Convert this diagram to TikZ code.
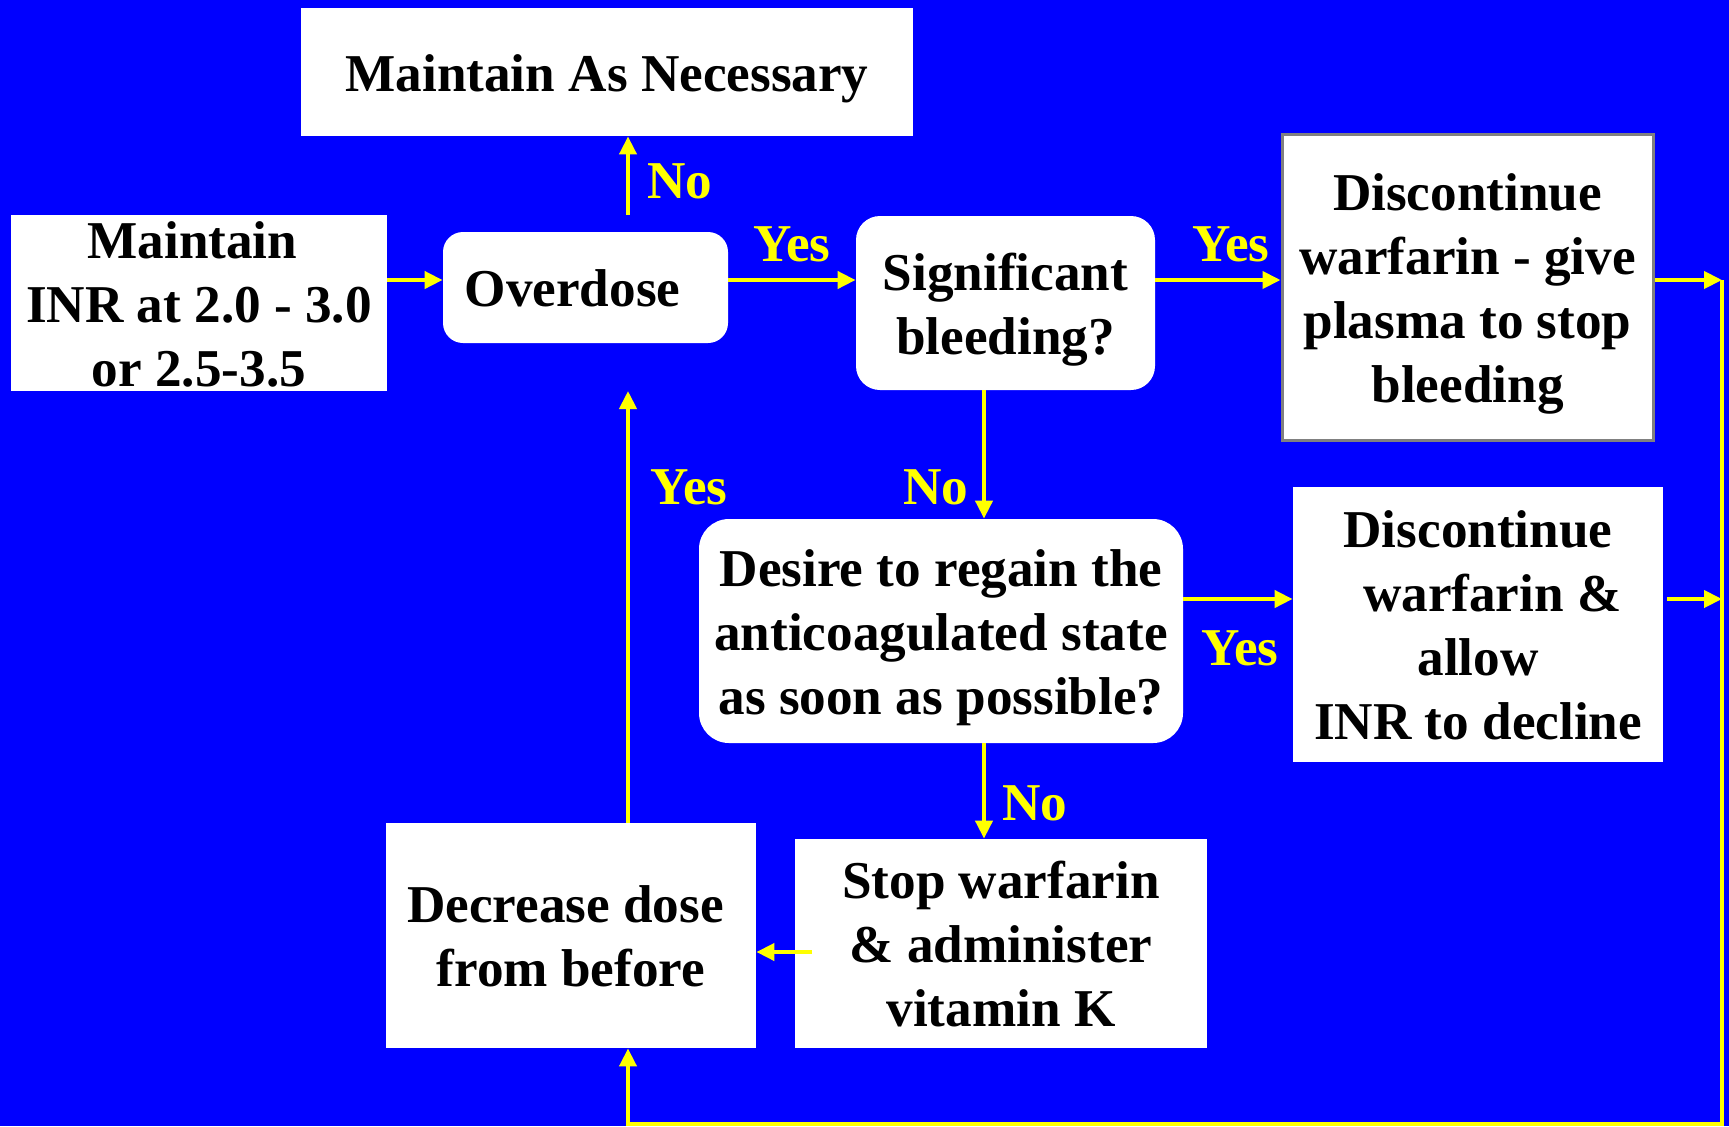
\documentclass[tikz,border=0pt]{standalone}
\usepackage{fontspec}
\setmainfont{Liberation Serif}
\usetikzlibrary{arrows.meta,calc}
\definecolor{bg}{RGB}{0,0,255}
\definecolor{yl}{RGB}{255,255,0}
\definecolor{gr}{RGB}{128,128,128}
\newcommand{\ls}{\rule[-6pt]{0pt}{31pt}}
\newcommand{\lsn}{\rule[-2.5pt]{0pt}{24pt}}
\begin{document}
\begin{tikzpicture}[x=0.5pt,y=-0.5pt,
  txt/.style={font=\bfseries\fontsize{26.6}{32}\selectfont, align=center},
  box/.style={txt, fill=white, inner sep=0pt, text=black},
  rbox/.style={box, rounded corners=#1},
  lab/.style={font=\bfseries\fontsize{26.6}{32}\selectfont, text=yl, anchor=base, inner sep=0pt},
  arr/.style={draw=yl, line width=2pt, -{Triangle[length=9pt,width=8.5pt]}}]
\fill[bg] (0,0) rectangle (1729,1126);
\useasboundingbox (0,0) rectangle (1729,1126);

\node[box, minimum width=306pt, minimum height=64pt] (MAN) at (607,72) {\ls Maintain As Necessary};
\node[box, minimum width=188pt, minimum height=88pt] (INR) at (199,303) {\lsn Maintain\kern6.6pt\\\lsn INR at 2.0 - 3.0\\\lsn or 2.5-3.5};
\node[rbox=10pt, minimum width=142.5pt, minimum height=55.5pt] (OD) at (585.5,287.5) {\hspace*{-13pt}\ls Overdose};
\node[rbox=12pt, minimum width=149.5pt, minimum height=87pt] (SB) at (1005.5,303) {\ls Significant\\\ls bleeding?};
\node[box, draw=gr, line width=1.5pt, minimum width=185.5pt, minimum height=153pt] (DP) at (1467.5,287) {\ls Discontinue\\\ls warfarin - give\\\ls plasma to stop\\\ls bleeding};
\node[rbox=15pt, minimum width=242pt, minimum height=112pt] (DES) at (941,631) {\ls Desire to regain the\\\ls anticoagulated state\\\ls as soon as possible?};
\node[box, minimum width=185pt, minimum height=137.5pt] (DA) at (1478,624.5) {\ls Discontinue\\\ls\kern14.3pt warfarin \&\\\ls allow\\\ls INR to decline};
\node[box, minimum width=206pt, minimum height=104.5pt] (STOP) at (1001,943.5) {\ls Stop warfarin\\\ls \& administer\\\ls vitamin K};
\node[box, minimum width=185pt, minimum height=112.5pt] (DEC) at (571,935.5) {\ls Decrease dose\kern5.5pt\\\ls from before};

\coordinate (x628) at (628,0);
\coordinate (x984) at (984,0);
\coordinate (y280) at (0,280);
\coordinate (y599) at (0,599);
\coordinate (R1) at (1722,280);
\coordinate (R2) at (1722,599);
\coordinate (C1) at (1722,1124);
\coordinate (C2) at (628,1124);
\coordinate (ODtop) at (628,215);
\coordinate (ODbot) at (628,391);
\coordinate (STOPtail) at (812,952);

\draw[arr] (INR.east |- y280) -- (OD.west |- y280);
\draw[arr] (OD.east |- y280) -- (SB.west |- y280);
\draw[arr] (SB.east |- y280) -- (DP.west |- y280);
\draw[arr] (DP.east |- y280) -- (R1);
\draw[arr] (ODtop) -- (MAN.south -| x628);
\draw[arr] (SB.south -| x984) -- (DES.north -| x984);
\draw[arr] (DES.south -| x984) -- (STOP.north -| x984);
\draw[arr] (DES.east |- y599) -- (DA.west |- y599);
\draw[arr] ([xshift=2pt]DA.east |- y599) -- (R2);
\draw[arr] (STOPtail) -- (DEC.east |- STOPtail);
\draw[arr] (DEC.north -| x628) -- (ODbot);
\draw[arr] (R1) -- (C1) -- (C2) -- (DEC.south -| x628);

\node[lab] (lNo1) at (680,198) {No};
\node[lab] (lY1) at (792,261) {Yes};
\node[lab] (lY2) at (1231,261) {Yes};
\node[lab] (lNo2) at (936,504) {No};
\node[lab] (lY3) at (689,504) {Yes};
\node[lab] (lY4) at (1240,665) {Yes};
\node[lab] (lNo3) at (1035,820) {No};
\end{tikzpicture}
\end{document}
